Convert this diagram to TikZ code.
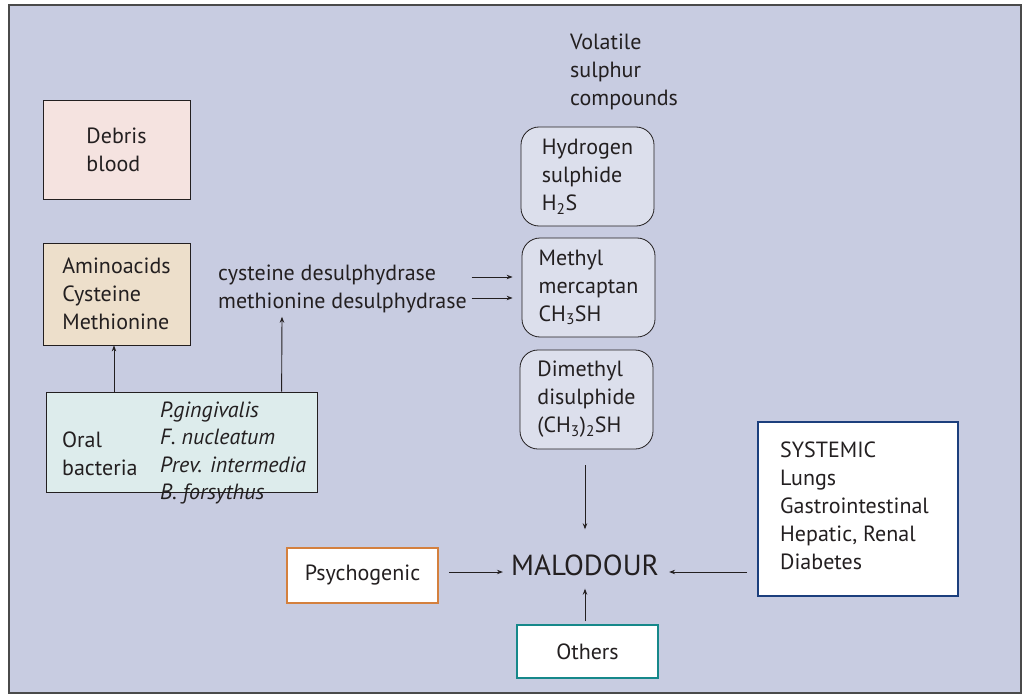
\documentclass[tikz,border=0pt]{standalone}
\usepackage{fontspec}
\setmainfont{PT Sans}
\usetikzlibrary{arrows.meta,calc}
\definecolor{bg}{HTML}{C8CCE1}
\definecolor{debrisfill}{HTML}{F5E3E0}
\definecolor{aminofill}{HTML}{EDDFCB}
\definecolor{oralfill}{HTML}{DDECEC}
\definecolor{vscfill}{HTML}{DCDFEC}
\definecolor{orangeb}{HTML}{D4803E}
\definecolor{tealb}{HTML}{16888A}
\definecolor{navyb}{HTML}{1C3F7D}
\definecolor{txt}{HTML}{231F20}
\definecolor{frame}{HTML}{4A4A4A}
\begin{document}
\begin{tikzpicture}[x=1pt,y=-1pt,
  every node/.style={text=txt,font=\fontsize{22}{28}\selectfont},
  plainbox/.style={draw=txt,line width=0.8pt,align=left,inner sep=0pt},
  vscbox/.style={draw=txt,line width=0.8pt,fill=vscfill,rounded corners=18pt,align=left,inner sep=0pt,minimum width=133pt,minimum height=99pt},
  arr/.style={draw=txt,line width=0.9pt,-{Stealth[length=6pt,width=4.5pt]}}]
\useasboundingbox (0,0) rectangle (1025,698);
\node[draw=frame,fill=bg,line width=1.2pt,minimum width=1012pt,minimum height=688pt,inner sep=0pt] (frame) at (515,349) {};
% left boxes
\node[plainbox,fill=debrisfill,minimum width=147pt,minimum height=99pt] (debris) at (116.5,149.5) {Debris\\blood};
\node[plainbox,fill=aminofill,minimum width=147pt,minimum height=102pt] (amino) at (116.5,294) {Aminoacids\\Cysteine\\Methionine};
\node[plainbox,fill=oralfill,minimum width=271pt,minimum height=100pt] (oral) at (181.5,442) {};
\node[anchor=west,align=left,inner sep=0pt] (oraltxt) at (62,454) {Oral\\bacteria};
\node[anchor=west,align=left,inner sep=0pt,font=\fontsize{22}{27.5}\selectfont\itshape] (bact) at (160,453) {P.gingivalis\\F. nucleatum\\Prev. intermedia\\B. forsythus};
% enzymes
\node[anchor=west,align=left,inner sep=0pt] (enz) at (218,288.5) {cysteine desulphydrase\\methionine desulphydrase};
% VSC
\node[anchor=west,align=left,inner sep=0pt] (vsc) at (570,72) {Volatile\\sulphur\\compounds};
\node[vscbox] (h2s) at (587.5,176.5) {Hydrogen\\sulphide\\H\textsubscript{2}S};
\node[vscbox] (methyl) at (588.5,287.5) {Methyl\\mercaptan\\CH\textsubscript{3}SH};
\node[vscbox] (dim) at (586.5,399.5) {Dimethyl\\disulphide\\(CH\textsubscript{3})\textsubscript{2}SH};
% malodour
\node[font=\fontsize{29}{34}\selectfont,inner sep=0pt] (mal) at (585,565) {MALODOUR};
\node[draw=orangeb,fill=white,line width=1.5pt,minimum width=151pt,minimum height=55pt,inner sep=0pt] (psy) at (362.5,575.5) {Psychogenic};
\node[draw=tealb,fill=white,line width=1.5pt,minimum width=141pt,minimum height=53pt,inner sep=0pt] (oth) at (587.5,651.5) {Others};
\node[draw=navyb,fill=white,line width=1.8pt,minimum width=200pt,minimum height=174pt,inner sep=0pt] (sys) at (858,509) {};
\node[anchor=west,align=left,inner sep=0pt] (systxt) at (780,506) {SYSTEMIC\\Lungs\\Gastrointestinal\\Hepatic, Renal\\Diabetes};
% arrows
\draw[arr] (oral.north -| 114,0) -- (amino.south -| 114,0);
\draw[arr] ([xshift=236pt]oral.north west) -- ([xshift=64pt,yshift=-4pt]enz.south west);
\draw[arr] ([xshift=-50pt,yshift=10.5pt]methyl.west) -- ([xshift=-9pt,yshift=10.5pt]methyl.west);
\draw[arr] ([xshift=-50pt,yshift=-10.5pt]methyl.west) -- ([xshift=-9pt,yshift=-10.5pt]methyl.west);
\draw[arr,shorten <=16pt] (dim.south -| mal.north) -- ([yshift=25pt]mal.north);
\draw[arr,shorten <=10pt,shorten >=8pt] ([yshift=3.5pt]psy.east) -- ([yshift=3.5pt]mal.west |- psy.east);
\draw[arr,shorten <=3pt,shorten >=13pt] (oth.north -| mal.south) -- (mal.south);
\draw[arr,shorten <=10pt,shorten >=10pt] ([yshift=3.5pt]sys.west |- psy.east) -- ([yshift=3.5pt]mal.east |- psy.east);
\end{tikzpicture}
\end{document}
